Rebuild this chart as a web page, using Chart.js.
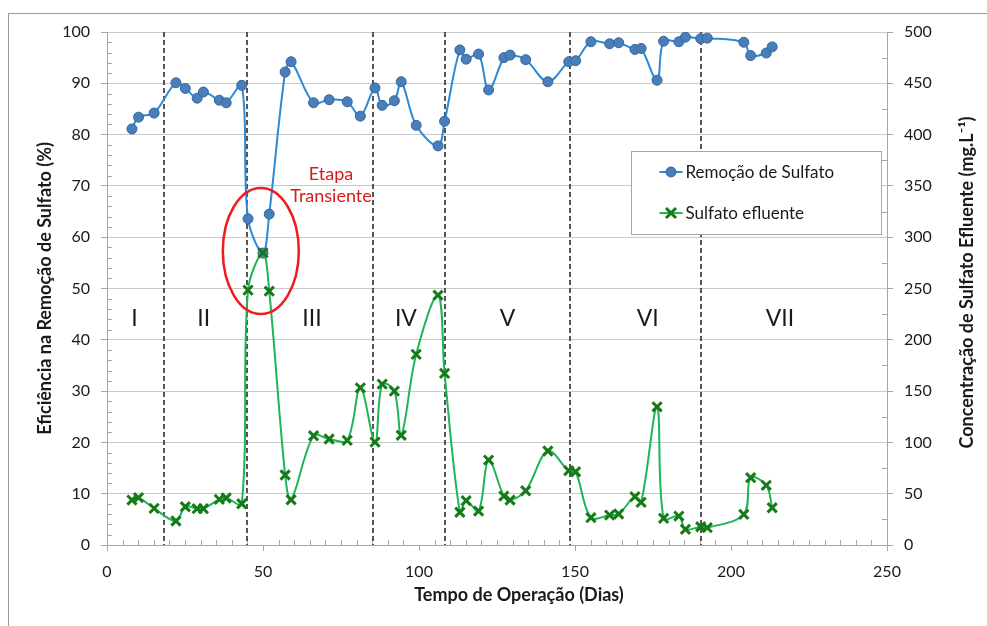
<!DOCTYPE html>
<html>
<head>
<meta charset="utf-8">
<script src="https://cdn.jsdelivr.net/npm/chart.js@4.4.1/dist/chart.umd.min.js"></script>
<style>
  html, body { margin: 0; padding: 0; background: #ffffff; }
  canvas { display: block; }
</style>
</head>
<body>
<canvas id="grafico" width="987" height="626"></canvas>
<script>
// Dias de operação em que foram feitas as coletas
const dias = [
  8.0, 10.1, 15.1, 22.1, 25.1, 28.9, 30.9, 36.0, 38.2, 43.2,
  45.2, 50.0, 52.0, 57.1, 59.0, 66.2, 71.2, 77.0, 81.2, 85.9,
  88.2, 92.1, 94.3, 99.1, 106.1, 108.2, 113.1, 115.1, 119.1, 122.3,
  127.2, 129.2, 134.2, 141.3, 148.0, 150.2, 155.1, 161.1, 164.0, 169.2,
  171.2, 176.3, 178.4, 183.3, 185.4, 190.3, 192.4, 204.1, 206.3, 211.3,
  213.2
];

// Eficiência na remoção de sulfato (%)
const remocaoSulfato = [
  81.1, 83.4, 84.2, 90.1, 89.0, 87.1, 88.3, 86.7, 86.2, 89.6,
  63.6, 56.9, 64.5, 92.2, 94.2, 86.2, 86.8, 86.4, 83.6, 89.1,
  85.7, 86.6, 90.3, 81.8, 77.8, 82.6, 96.5, 94.7, 95.7, 88.7,
  95.0, 95.5, 94.6, 90.3, 94.2, 94.4, 98.1, 97.7, 97.9, 96.6,
  96.8, 90.6, 98.2, 98.1, 99.0, 98.7, 98.8, 98.0, 95.4, 95.9,
  97.1
];

// Concentração de sulfato no efluente (mg/L)
const sulfatoEfluente = [
  43.8, 46.1, 35.7, 23.4, 37.3, 35.4, 35.4, 44.5, 45.8, 40.2,
  248.4, 284.7, 247.4, 68.2, 44.1, 106.5, 103.3, 102.0, 153.2, 100.3,
  156.8, 150.0, 106.9, 185.8, 243.5, 167.3, 31.9, 43.2, 33.1, 82.8,
  47.7, 43.8, 52.9, 91.6, 72.4, 71.4, 26.6, 29.2, 30.2, 47.1,
  41.6, 134.7, 26.0, 28.2, 15.3, 17.8, 16.9, 29.9, 65.6, 58.2,
  36.3
];

// Limites entre as etapas operacionais (dias)
const limitesEtapas = [18.3, 45.0, 85.4, 108.2, 148.3, 190.3];

// Nomes das etapas e posição dos rótulos (dia, % no eixo esquerdo)
const etapas = ['I', 'II', 'III', 'IV', 'V', 'VI', 'VII'];
const posicaoEtapas = [8.8, 31.0, 65.7, 95.8, 128.4, 173.3, 215.7];
const alturaEtapas = 44.2;

// Destaque da etapa transiente: centro da elipse e do texto (dia, %)
const centroTransiente = [49.3, 57.3];
const textoTransiente = ['Etapa', 'Transiente'];
const ancoraTextoTransiente = [71.8, 70.1];

// Escalas
const eixoX = { min: 0, max: 250, passo: 50, passoMenor: 5 };
const eixoEsq = { min: 0, max: 100, passo: 10, passoMenor: 2 };
const eixoDir = { min: 0, max: 500, passo: 50, passoMenor: 25 };

const serieRemocao = 'Remoção de Sulfato';
const serieEfluente = 'Sulfato efluente';
const tituloX = 'Tempo de Operação (Dias)';
const tituloEsq = 'Eficiência na Remoção de Sulfato (%)';
const tituloDir = 'Concentração de Sulfato Efluente (mg.L⁻¹)';

const AZUL_LINHA = '#2b8bd6';
const AZUL_PONTO = '#4a7ebb';
const AZUL_BORDA = '#35679f';
const VERDE_LINHA = '#1fb556';
const VERDE_MARCA = '#157a17';
const CINZA_EIXO = '#a6a6a6';
const CINZA_GRADE = '#c9c9c9';
const TEXTO = '#1a1a1a';
const FONTE = 'Lato, "Open Sans", sans-serif';

Chart.defaults.font.family = FONTE;
Chart.defaults.color = TEXTO;

function desenharMarca(ctx, tipo, x, y) {
  ctx.save();
  if (tipo === 'circulo') {
    ctx.beginPath();
    ctx.arc(x, y, 5, 0, Math.PI * 2);
    ctx.fillStyle = AZUL_PONTO;
    ctx.fill();
    ctx.lineWidth = 1;
    ctx.strokeStyle = AZUL_BORDA;
    ctx.stroke();
  } else {
    ctx.beginPath();
    ctx.moveTo(x - 5, y - 5); ctx.lineTo(x + 5, y + 5);
    ctx.moveTo(x + 5, y - 5); ctx.lineTo(x - 5, y + 5);
    ctx.lineWidth = 3;
    ctx.strokeStyle = VERDE_MARCA;
    ctx.stroke();
  }
  ctx.restore();
}

const decoracoes = {
  id: 'decoracoes',
  beforeDraw(chart) {
    const ctx = chart.ctx;
    ctx.save();
    ctx.fillStyle = '#ffffff';
    ctx.fillRect(0, 0, chart.width, chart.height);
    // moldura do gráfico
    ctx.strokeStyle = '#9a9a9a';
    ctx.lineWidth = 1;
    ctx.strokeRect(8.5, 13.5, chart.width + 20, chart.height + 20);
    ctx.restore();
  },
  beforeDatasetsDraw(chart) {
    const { ctx, chartArea: a, scales } = chart;
    const x = scales.x, yE = scales.y, yD = scales.y1;
    ctx.save();
    // marcas secundárias dos eixos
    ctx.strokeStyle = CINZA_EIXO;
    ctx.lineWidth = 1;
    ctx.beginPath();
    for (let v = eixoEsq.min; v <= eixoEsq.max; v += eixoEsq.passoMenor) {
      if (v % eixoEsq.passo === 0) continue;
      const py = Math.round(yE.getPixelForValue(v)) + 0.5;
      ctx.moveTo(a.left, py); ctx.lineTo(a.left + 5, py);
    }
    for (let v = eixoDir.min; v <= eixoDir.max; v += eixoDir.passoMenor) {
      if (v % eixoDir.passo === 0) continue;
      const py = Math.round(yD.getPixelForValue(v)) + 0.5;
      ctx.moveTo(a.right - 5, py); ctx.lineTo(a.right, py);
    }
    for (let v = eixoX.min; v <= eixoX.max; v += eixoX.passoMenor) {
      if (v % eixoX.passo === 0) continue;
      const px = Math.round(x.getPixelForValue(v)) + 0.5;
      ctx.moveTo(px, a.bottom); ctx.lineTo(px, a.bottom - 5);
    }
    ctx.stroke();

    // divisões entre etapas
    ctx.strokeStyle = '#555555';
    ctx.lineWidth = 2;
    ctx.setLineDash([5, 3]);
    ctx.beginPath();
    limitesEtapas.forEach(d => {
      const px = Math.round(x.getPixelForValue(d));
      ctx.moveTo(px, a.top); ctx.lineTo(px, a.bottom);
    });
    ctx.stroke();
    ctx.setLineDash([]);

    // rótulos das etapas
    ctx.fillStyle = TEXTO;
    ctx.font = '23px ' + FONTE;
    ctx.textAlign = 'center';
    ctx.textBaseline = 'middle';
    etapas.forEach((t, i) => {
      ctx.fillText(t, x.getPixelForValue(posicaoEtapas[i]), yE.getPixelForValue(alturaEtapas));
    });
    ctx.restore();
  },
  afterDatasetsDraw(chart) {
    const { ctx, chartArea: a, scales } = chart;
    const x = scales.x, yE = scales.y;
    ctx.save();
    // elipse da etapa transiente
    ctx.strokeStyle = '#ee1c1c';
    ctx.lineWidth = 2.5;
    ctx.beginPath();
    ctx.ellipse(x.getPixelForValue(centroTransiente[0]), yE.getPixelForValue(centroTransiente[1]),
      38, 63, 0, 0, Math.PI * 2);
    ctx.stroke();

    ctx.fillStyle = '#d91a1a';
    ctx.font = '18px ' + FONTE;
    ctx.textAlign = 'center';
    ctx.textBaseline = 'middle';
    const tx = x.getPixelForValue(ancoraTextoTransiente[0]);
    const ty = yE.getPixelForValue(ancoraTextoTransiente[1]);
    ctx.fillText(textoTransiente[0], tx, ty - 11);
    ctx.fillText(textoTransiente[1], tx, ty + 11);

    // legenda
    const lx = 631.5, ly = 151.5, lw = 250, lh = 83;
    ctx.fillStyle = '#ffffff';
    ctx.fillRect(lx, ly, lw, lh);
    ctx.strokeStyle = CINZA_EIXO;
    ctx.lineWidth = 1;
    ctx.strokeRect(lx, ly, lw, lh);
    const itens = [
      { texto: serieRemocao, cor: AZUL_LINHA, marca: 'circulo', y: ly + 20.5 },
      { texto: serieEfluente, cor: VERDE_LINHA, marca: 'x', y: ly + 61.5 }
    ];
    itens.forEach(it => {
      ctx.strokeStyle = it.cor;
      ctx.lineWidth = 2;
      ctx.beginPath();
      ctx.moveTo(lx + 28, it.y); ctx.lineTo(lx + 51, it.y);
      ctx.stroke();
      desenharMarca(ctx, it.marca, lx + 39.5, it.y);
      ctx.fillStyle = TEXTO;
      ctx.font = '17px ' + FONTE;
      ctx.textAlign = 'left';
      ctx.textBaseline = 'middle';
      ctx.fillText(it.texto, lx + 54, it.y + 1);
    });

    // título do eixo horizontal
    ctx.fillStyle = TEXTO;
    ctx.font = 'bold 18px ' + FONTE;
    ctx.textAlign = 'center';
    ctx.textBaseline = 'middle';
    ctx.fillText(tituloX, (a.left + a.right) / 2 + 22, 595);

    // título do eixo direito, lido de baixo para cima
    ctx.translate(967, (a.top + a.bottom) / 2 - 6);
    ctx.rotate(-Math.PI / 2);
    ctx.fillText(tituloDir, 0, 0);
    ctx.restore();
  }
};

const pontos = (valores) => dias.map((d, i) => ({ x: d, y: valores[i] }));

new Chart(document.getElementById('grafico'), {
  type: 'line',
  data: {
    datasets: [
      {
        label: serieEfluente,
        data: pontos(sulfatoEfluente),
        yAxisID: 'y1',
        order: 0,
        borderColor: VERDE_LINHA,
        borderWidth: 2,
        tension: 0.35,
        pointStyle: 'crossRot',
        pointRadius: 6.5,
        pointBorderWidth: 3,
        pointBorderColor: VERDE_MARCA,
        pointBackgroundColor: VERDE_MARCA
      },
      {
        label: serieRemocao,
        data: pontos(remocaoSulfato),
        yAxisID: 'y',
        order: 1,
        borderColor: AZUL_LINHA,
        borderWidth: 2,
        tension: 0.35,
        pointStyle: 'circle',
        pointRadius: 5,
        pointBorderWidth: 1,
        pointBorderColor: AZUL_BORDA,
        pointBackgroundColor: AZUL_PONTO
      }
    ]
  },
  options: {
    responsive: false,
    animation: false,
    devicePixelRatio: 1,
    layout: { padding: { top: 32, left: 0, right: 0, bottom: 0 } },
    plugins: { legend: { display: false }, tooltip: { enabled: false } },
    scales: {
      x: {
        type: 'linear',
        min: eixoX.min, max: eixoX.max,
        afterFit: s => { s.height = 81; },
        ticks: { stepSize: eixoX.passo, padding: 11, font: { size: 16 }, color: TEXTO, maxRotation: 0 },
        grid: { drawOnChartArea: false, drawTicks: true, tickLength: 6, color: CINZA_EIXO },
        border: { display: true, color: CINZA_EIXO }
      },
      y: {
        position: 'left',
        min: eixoEsq.min, max: eixoEsq.max,
        afterFit: s => { s.width = 107; },
        ticks: { stepSize: eixoEsq.passo, padding: 11, font: { size: 16 }, color: TEXTO },
        grid: { color: CINZA_GRADE, tickColor: CINZA_EIXO, tickLength: 6 },
        border: { display: true, color: CINZA_EIXO },
        title: { display: true, text: tituloEsq, font: { size: 18, weight: 'bold' }, color: TEXTO, padding: { top: 34, bottom: 0 } }
      },
      y1: {
        position: 'right',
        min: eixoDir.min, max: eixoDir.max,
        afterFit: s => { s.width = 100; },
        ticks: { stepSize: eixoDir.passo, padding: 11, font: { size: 16 }, color: TEXTO },
        grid: { drawOnChartArea: false, tickColor: CINZA_EIXO, tickLength: 6 },
        border: { display: true, color: CINZA_EIXO }
      }
    }
  },
  plugins: [decoracoes]
});
</script>
</body>
</html>
